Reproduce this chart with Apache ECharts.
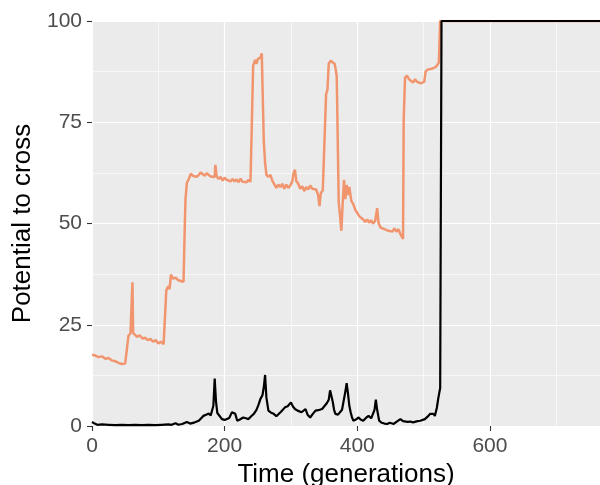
<!DOCTYPE html>
<html>
<head>
<meta charset="utf-8">
<script src="https://cdn.jsdelivr.net/npm/echarts@6/dist/echarts.min.js"></script>
<style>html,body{margin:0;padding:0;background:#fff}#c{width:600px;height:485px}</style>
</head>
<body>
<div id="c"></div>
<script>
var xTicks = [0, 200, 400, 600];
var yTicks = [0, 25, 50, 75, 100];

var orangeGen = [0,5,10,15,20,25,30,35,40,45,50,53,55,58,60,61,62,65,68,72,76,80,84,88,92,96,100,104,108,110,112,115,117,119,122,126,130,134,138,140,141,143,146,149,152,155,158,161,164,167,170,173,176,179,182,185,186,188,191,194,197,200,203,206,209,212,215,218,221,224,227,230,233,236,239,241,243,246,248,250,252,254,256,258,259,261,263,266,269,272,275,278,281,284,287,290,293,296,299,302,304,306,308,311,314,317,320,323,326,329,332,335,338,341,343,345,348,351,353,355,357,360,363,366,368,369,370,372,374,376,378,380,382,384,386,388,391,394,397,400,403,406,409,412,415,418,421,424,427,430,432,435,438,441,444,447,450,453,456,459,462,465,467,469,470,472,475,478,481,484,487,490,493,496,499,501,503,506,509,512,515,518,521,523,525,766];
var orangeVal = [17.6,17.4,17.0,17.2,16.6,16.8,16.2,16.0,15.6,15.3,15.4,15.0,22.3,22.8,22.6,35.5,23.0,22.8,22.0,22.4,21.6,21.8,21.2,21.5,20.8,21.2,20.4,20.8,20.2,20.0,33.5,34.5,33.8,37.4,36.4,36.6,36.0,35.8,35.6,50,56,60.0,61.0,62.3,61.8,62.2,61.5,62.0,62.6,62.3,61.8,62.4,62.1,61.6,62.0,61.5,64.5,61.6,61.0,61.5,60.6,61.3,60.8,61.0,60.4,61.0,60.4,60.9,60.2,61.1,60.3,60.5,60.2,60.8,60.3,60.0,89.0,90.4,89.4,90.6,90.8,91.0,92.0,91.6,70.5,65,62.0,61.5,62.0,60.5,60.2,58.8,59.6,59.0,59.8,58.6,59.6,58.8,59.4,60.4,62.5,63.3,60.5,59.8,58.6,59.2,58.0,59.0,58.4,59.4,58.6,59.0,58.4,57.0,54.3,57.5,58.2,57.8,82,83,89.5,90.2,90.2,89.4,87.5,86.3,76.4,55.2,52,48.2,55,60.8,56,59.5,57,59,55.6,54.8,53.4,53.0,51.8,52.2,51.0,50.4,51.0,50.2,50.8,50.0,50.6,53.8,50.2,49.0,49.2,48.6,49.0,48.2,48.4,48.0,48.8,48.0,48.6,47.4,47.0,46.2,75.6,86.0,86.5,85.6,85.8,84.8,85.6,85.0,85.4,84.6,84.4,85.0,87.5,88.0,87.6,88.2,87.8,88.6,89.2,89.8,100,100];

var blackGen = [0,4,8,15,25,35,45,55,65,75,85,95,105,115,120,126,130,136,143,148,155,161,165,168,172,176,179,181,183,185,187,189,192,196,200,203,207,211,214,216,219,223,228,232,236,240,244,248,251,254,257,259,261,263,266,270,274,278,281,285,288,291,295,298,300,303,306,310,313,316,319,322,325,329,333,337,341,344,347,350,354,357,359,361,363,365,367,371,374,377,379,382,384,386,388,390,392,394,398,402,405,409,413,417,421,424,426,428,430,433,437,441,445,449,452,455,459,462,465,469,472,476,480,484,487,491,495,498,502,506,510,513,515,517,520,522,524,525,527,766];
var blackVal = [1.0,0.6,0.3,0.4,0.3,0.2,0.3,0.2,0.3,0.2,0.3,0.2,0.3,0.4,0.3,0.7,0.3,0.5,1.0,0.6,0.9,1.3,2.0,2.5,2.8,3.1,2.6,2.5,5,11.7,6,3.2,2.8,1.7,1.5,1.3,2.0,3.4,3.2,3.0,1.3,1.6,2.1,1.9,1.7,2.4,3.0,4.0,5.2,6.7,7.6,9.5,12.6,7,3.8,3.3,3.0,2.4,2.5,3.5,3.8,4.6,4.9,5.2,5.8,4.8,4.2,3.8,3.4,3.4,3.0,4.2,2.8,2.1,3.0,3.8,3.9,3.9,4.2,4.2,5.6,6.5,8.8,9.2,6,4,3.0,2.8,2.5,4,5.8,8.5,10.6,8,5,3.4,2.2,1.3,1.6,2.1,1.6,1.3,2.0,2.5,1.9,2.1,4,6.5,4,1.3,0.8,0.6,0.5,0.8,0.4,0.5,1.0,0.6,1.7,1.2,1.0,1.0,1.1,0.9,1.0,1.2,1.3,1.5,1.7,2.3,3.0,3.2,3.0,2.5,4.5,6.7,8.5,9.3,100,100];

function pairs(g, v) { return g.map(function (x, i) { return [x, v[i]]; }); }

var chart = echarts.init(document.getElementById('c'), null, { renderer: 'canvas' });
var font = 'Liberation Sans, Arial, sans-serif';
var xMax = 766;
chart.setOption({
  animation: false,
  grid: { left: 92, top: 21, right: 0, bottom: 59, show: true, backgroundColor: '#EBEBEB', borderWidth: 0,
    containLabel: false, outerBoundsMode: 'none' },
  xAxis: [{
    type: 'value', min: 0, max: xMax, interval: 100, position: 'bottom',
    axisLine: { show: false }, axisTick: { show: false }, axisLabel: { show: false },
    splitLine: { show: true, showMaxLine: false, showMinLine: false, lineStyle: { color: '#fff', width: 0.6 } }
  }, {
    type: 'value', min: 0, max: xMax, interval: 200, position: 'bottom',
    name: 'Time (generations)', nameLocation: 'middle', nameGap: 29,
    nameTextStyle: { color: '#000', fontSize: 26, fontFamily: font },
    axisLine: { show: false },
    axisTick: { show: true, length: 5, lineStyle: { color: '#333', width: 1.1 } },
    axisLabel: { color: '#4D4D4D', fontSize: 21, fontFamily: font, margin: 10, showMaxLabel: false,
      formatter: function (v) { return xTicks.indexOf(v) >= 0 ? String(v) : ''; } },
    splitLine: { show: true, showMaxLine: false, lineStyle: { color: '#fff', width: 1.2 } }
  }],
  yAxis: {
    type: 'value', min: 0, max: 100, interval: 25,
    name: 'Potential to cross', nameLocation: 'middle', nameGap: 46,
    nameTextStyle: { color: '#000', fontSize: 26, fontFamily: font },
    axisLine: { show: false },
    axisTick: { show: true, length: 5, lineStyle: { color: '#333', width: 1.1 } },
    axisLabel: { color: '#4D4D4D', fontSize: 21, fontFamily: font, margin: 10,
      verticalAlign: 'middle', verticalAlignMinLabel: 'middle', verticalAlignMaxLabel: 'middle',
      formatter: function (v) { return yTicks.indexOf(v) >= 0 ? String(v) : ''; } },
    splitLine: { show: true, lineStyle: { color: '#fff', width: 1.2 } },
    minorTick: { show: false, splitNumber: 2 },
    minorSplitLine: { show: true, lineStyle: { color: '#fff', width: 0.6 } }
  },
  series: [
    { type: 'line', xAxisIndex: 1, data: pairs(orangeGen, orangeVal), showSymbol: false, symbol: 'none',
      lineStyle: { color: '#F1956E', width: 2.5 }, z: 2 },
    { type: 'line', xAxisIndex: 1, data: pairs(blackGen, blackVal), showSymbol: false, symbol: 'none',
      lineStyle: { color: '#000', width: 2.2 }, z: 3 }
  ]
});
</script>
</body>
</html>
